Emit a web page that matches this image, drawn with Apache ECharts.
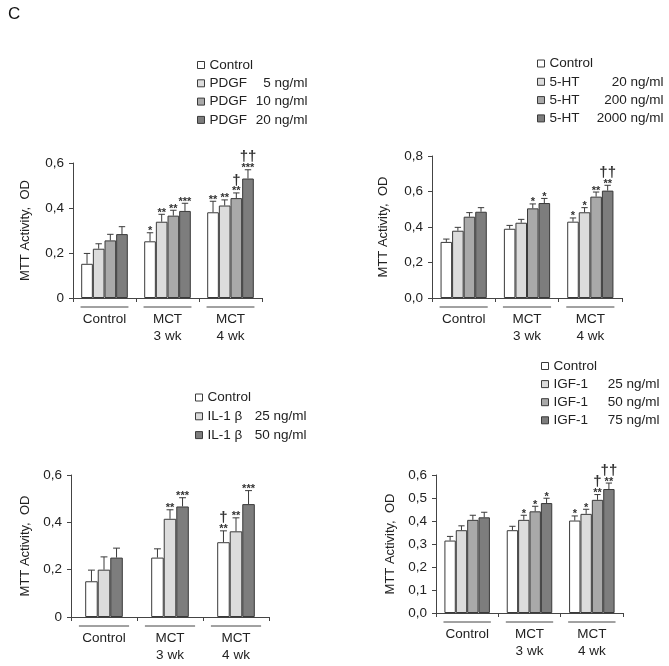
<!DOCTYPE html>
<html><head><meta charset="utf-8">
<script src="https://cdn.jsdelivr.net/npm/echarts@6/dist/echarts.min.js"></script>
<style>html,body{margin:0;padding:0;background:#fff}#c{width:669px;height:666px}</style>
</head><body><div id="c"></div>
<script>
// ---------- data ----------
var categories = ['Control', 'MCT\n3 wk', 'MCT\n4 wk'];
var fillColors = ['#ffffff', '#dcdcdc', '#a9a9a9', '#7d7d7d'];
var fillColors3 = ['#ffffff', '#dcdcdc', '#7d7d7d'];

// Panel 1: PDGF
var pdgfNames = ['Control', 'PDGF|5 ng/ml', 'PDGF|10 ng/ml', 'PDGF|20 ng/ml'];
var pdgfCtrl = [0.152, 0.252, 0.381], pdgfCtrlErr = [0.046, 0.038, 0.049];
var pdgf5 = [0.219, 0.339, 0.411], pdgf5Err = [0.022, 0.033, 0.025];
var pdgf10 = [0.256, 0.366, 0.444], pdgf10Err = [0.027, 0.024, 0.023];
var pdgf20 = [0.284, 0.387, 0.531], pdgf20Err = [0.033, 0.034, 0.039];
var pdgfStars = [['', '*', '**'], ['', '**', '**'], ['', '**', '**'], ['', '***', '***']];
var pdgfDaggers = [['', '', ''], ['', '', ''], ['', '', '\u2020'], ['', '', '\u2020\u2020']];
var pdgfTicks = ['0', '0,2', '0,4', '0,6'];

// Panel 2: 5-HT
var htNames = ['Control', '5-HT|20 ng/ml', '5-HT|200 ng/ml', '5-HT|2000 ng/ml'];
var htCtrl = [0.316, 0.390, 0.430], htCtrlErr = [0.016, 0.019, 0.021];
var ht20 = [0.379, 0.424, 0.483], ht20Err = [0.019, 0.019, 0.026];
var ht200 = [0.458, 0.505, 0.571], ht200Err = [0.023, 0.025, 0.026];
var ht2000 = [0.486, 0.535, 0.605], ht2000Err = [0.023, 0.026, 0.030];
var htStars = [['', '', '*'], ['', '', '*'], ['', '*', '**'], ['', '*', '**']];
var htDaggers = [['', '', ''], ['', '', ''], ['', '', ''], ['', '', '\u2020\u2020']];
var htTicks = ['0,0', '0,2', '0,4', '0,6', '0,8'];

// Panel 3: IL-1 beta
var ilNames = ['Control', 'IL-1 \u03b2|25 ng/ml', 'IL-1 \u03b2|50 ng/ml'];
var ilCtrl = [0.151, 0.251, 0.316], ilCtrlErr = [0.047, 0.037, 0.048];
var il25 = [0.200, 0.415, 0.362], il25Err = [0.054, 0.038, 0.057];
var il50 = [0.251, 0.467, 0.477], il50Err = [0.040, 0.037, 0.057];
var ilStars = [['', '', '**'], ['', '**', '**'], ['', '***', '***']];
var ilDaggers = [['', '', '\u2020'], ['', '', ''], ['', '', '']];
var ilTicks = ['0', '0,2', '0,4', '0,6'];

// Panel 4: IGF-1
var igfNames = ['Control', 'IGF-1|25 ng/ml', 'IGF-1|50 ng/ml', 'IGF-1|75 ng/ml'];
var igfCtrl = [0.315, 0.360, 0.402], igfCtrlErr = [0.018, 0.017, 0.020];
var igf25 = [0.360, 0.405, 0.431], igf25Err = [0.019, 0.020, 0.020];
var igf50 = [0.405, 0.442, 0.492], igf50Err = [0.020, 0.022, 0.023];
var igf75 = [0.416, 0.478, 0.539], igf75Err = [0.022, 0.021, 0.026];
var igfStars = [['', '', '*'], ['', '*', '*'], ['', '*', '**'], ['', '*', '**']];
var igfDaggers = [['', '', ''], ['', '', ''], ['', '', '\u2020'], ['', '', '\u2020\u2020']];
var igfTicks = ['0,0', '0,1', '0,2', '0,3', '0,4', '0,5', '0,6'];

// ---------- layout ----------
var FONT = '"Liberation Sans", Arial, sans-serif';
var FS = 13.5;
var panels = [
  {names: pdgfNames, vals: [pdgfCtrl, pdgf5, pdgf10, pdgf20], errs: [pdgfCtrlErr, pdgf5Err, pdgf10Err, pdgf20Err],
   stars: pdgfStars, daggers: pdgfDaggers, ticks: pdgfTicks, max: 0.6, interval: 0.2, colors: fillColors,
   grid: {left: 73, top: 163, width: 189, height: 135}, gap: 0.26, nameGap: 41,
   legend: {left: 197, top: 57.5, gap: 3.3, doseW: 56, drugW: 42}},
  {names: htNames, vals: [htCtrl, ht20, ht200, ht2000], errs: [htCtrlErr, ht20Err, ht200Err, ht2000Err],
   stars: htStars, daggers: htDaggers, ticks: htTicks, max: 0.8, interval: 0.2, colors: fillColors,
   grid: {left: 432, top: 156, width: 190, height: 142}, gap: 0.27, nameGap: 42,
   legend: {left: 537, top: 56, gap: 3.3, doseW: 74, drugW: 40}},
  {names: ilNames, vals: [ilCtrl, il25, il50], errs: [ilCtrlErr, il25Err, il50Err],
   stars: ilStars, daggers: ilDaggers, ticks: ilTicks, max: 0.6, interval: 0.2, colors: fillColors3,
   grid: {left: 71, top: 475, width: 198, height: 142}, gap: 0.43, nameGap: 39,
   legend: {left: 195, top: 390, gap: 3.8, doseW: 56, drugW: 43}},
  {names: igfNames, vals: [igfCtrl, igf25, igf50, igf75], errs: [igfCtrlErr, igf25Err, igf50Err, igf75Err],
   stars: igfStars, daggers: igfDaggers, ticks: igfTicks, max: 0.6, interval: 0.1, colors: fillColors,
   grid: {left: 436, top: 475, width: 187, height: 138}, gap: 0.27, nameGap: 39,
   legend: {left: 541, top: 358.5, gap: 3.1, doseW: 62, drugW: 44}}
];

var option = {
  backgroundColor: '#fff',
  animation: false,
  title: {text: 'C', left: 3, top: 1, textStyle: {fontFamily: FONT, fontSize: 17, fontWeight: 'normal', color: '#111'}},
  grid: [], xAxis: [], yAxis: [], series: [], legend: []
};

function makeRender(p, edata) {
  var n = p.vals.length, gap = p.gap;
  return function (params, api) {
    var item = edata[params.dataIndex];
    var ci = item[0], top = item[1], si = item[2];
    var band = api.size([1, 0])[0];
    var groupW = band * (1 - gap);
    var barW = groupW / n;
    var c = api.coord([ci, top]);
    var base = api.coord([ci, p.vals[si][ci]]);
    var x = c[0] - groupW / 2 + (si + 0.5) * barW;
    var capW = barW * 0.55;
    var children = [
      {type: 'line', shape: {x1: x, y1: base[1], x2: x, y2: c[1]}, style: {stroke: '#3a3a3a', lineWidth: 1}},
      {type: 'line', shape: {x1: x - capW / 2, y1: c[1], x2: x + capW / 2, y2: c[1]}, style: {stroke: '#3a3a3a', lineWidth: 1}}
    ];
    if (item[3]) {
      children.push({type: 'text', style: {text: item[3], x: x, y: c[1] + 4, align: 'center', verticalAlign: 'bottom',
        font: 'bold 11px ' + FONT, fill: '#333'}});
    }
    if (item[4]) {
      children.push({type: 'text', style: {text: item[4], x: x, y: c[1] - 5, align: 'center', verticalAlign: 'bottom',
        font: 'bold 15px ' + FONT, fill: '#333'}});
    }
    return {type: 'group', children: children};
  };
}

panels.forEach(function (p, pi) {
  option.grid.push(Object.assign({containLabel: false}, p.grid));
  option.xAxis.push({
    type: 'category', gridIndex: pi, data: categories,
    axisLine: {lineStyle: {color: '#444', width: 1}},
    axisTick: {show: true, length: 4, inside: false, lineStyle: {color: '#444'}},
    axisLabel: {fontFamily: FONT, fontSize: FS, color: '#222', margin: 13, lineHeight: 17, interval: 0}
  });
  option.yAxis.push({
    type: 'value', gridIndex: pi, min: 0, max: p.max, interval: p.interval,
    name: 'MTT Activity,  OD', nameLocation: 'middle', nameGap: p.nameGap, nameRotate: 90,
    nameTextStyle: {fontFamily: FONT, fontSize: 13, color: '#222'},
    splitLine: {show: false},
    axisLine: {show: true, lineStyle: {color: '#444', width: 1}},
    axisTick: {show: true, length: 4, lineStyle: {color: '#444'}},
    axisLabel: {fontFamily: FONT, fontSize: FS, color: '#222', margin: 9,
      formatter: (function (ticks, iv) { return function (v) { return ticks[Math.round(v / iv)]; }; })(p.ticks, p.interval)}
  });
  p.vals.forEach(function (vals, si) {
    option.series.push({
      type: 'bar', name: p.names[si], xAxisIndex: pi, yAxisIndex: pi,
      data: vals, barGap: '0%', barCategoryGap: (p.gap * 100) + '%',
      itemStyle: {color: p.colors[si], borderColor: '#3a3a3a', borderWidth: 1},
      z: 2
    });
  });
  var edata = [];
  p.vals.forEach(function (vals, si) {
    vals.forEach(function (v, ci) {
      edata.push([ci, v + p.errs[si][ci], si, p.stars[si][ci], p.daggers[si][ci]]);
    });
  });
  option.series.push({
    type: 'custom', xAxisIndex: pi, yAxisIndex: pi, z: 5, silent: true,
    data: edata.map(function (e) { return [e[0], e[1], e[2]]; }),
    encode: {x: 0, y: 1},
    renderItem: makeRender(p, edata)
  });
  option.legend.push({
    orient: 'vertical', left: p.legend.left, top: p.legend.top, padding: 0,
    data: p.names.map(function (nm) { return {name: nm}; }),
    icon: 'rect', itemWidth: 7, itemHeight: 7, itemGap: p.legend.gap,
    selectedMode: false,
    itemStyle: {borderColor: '#3a3a3a', borderWidth: 1},
    formatter: function (nm) {
      var parts = nm.split('|');
      if (parts.length === 1) return '{a|' + parts[0] + '}';
      return '{d|' + parts[0] + '}{b|' + parts[1] + '}';
    },
    textStyle: {fontFamily: FONT, fontSize: FS, color: '#222', lineHeight: 15,
      rich: {a: {fontFamily: FONT, fontSize: FS, color: '#222'},
             d: {fontFamily: FONT, fontSize: FS, color: '#222', width: p.legend.drugW},
             b: {fontFamily: FONT, fontSize: FS, color: '#222', width: p.legend.doseW, align: 'right'}}}
  });
});

var chart = echarts.init(document.getElementById('c'), null, {renderer: 'canvas'});
chart.setOption(option);

// underlines beneath category labels, positioned through the axes
var graphics = [];
panels.forEach(function (p, pi) {
  var p0 = chart.convertToPixel({gridIndex: pi}, [0, 0]);
  var p1 = chart.convertToPixel({gridIndex: pi}, [1, 0]);
  var band = p1[0] - p0[0];
  categories.forEach(function (c, ci) {
    var pt = chart.convertToPixel({gridIndex: pi}, [ci, 0]);
    var half = band * 0.38;
    graphics.push({type: 'line', shape: {x1: pt[0] - half, y1: pt[1] + 9, x2: pt[0] + half, y2: pt[1] + 9},
      style: {stroke: '#444', lineWidth: 1}});
  });
});
chart.setOption({graphic: graphics});
</script>
</body></html>
